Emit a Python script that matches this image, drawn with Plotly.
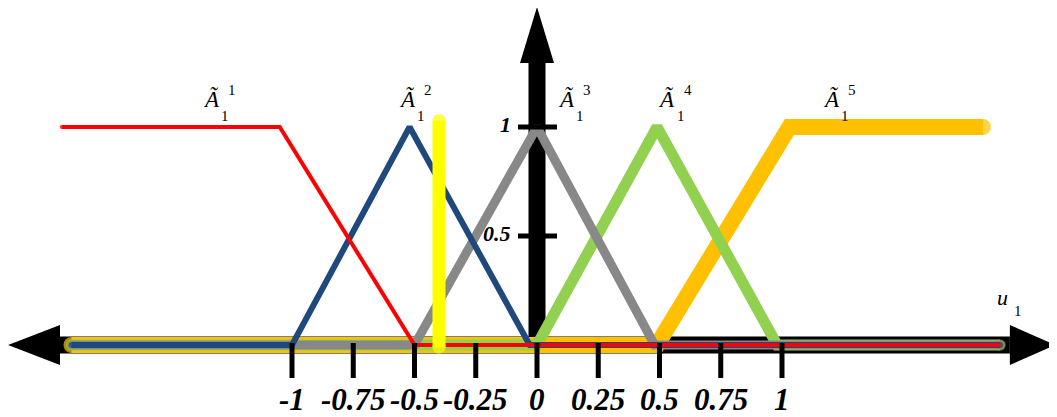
"""Fuzzy membership functions A~_1^1..A~_1^5 on the u_1 universe."""
import plotly.graph_objects as go

# membership function breakpoints
red_x = [-1.94, -1.05, -0.5, 1.89]
red_y = [1, 1, 0, 0]
blue_x = [-1.9, -1.0, -0.52, -0.03, 1.89]
blue_y = [0, 0, 1, 0, 0]
gray_x = [-1.9, -0.5, 0.0, 0.48, 1.89]
gray_y = [0, 0, 1, 0, 0]
green_x = [-1.9, 0.0, 0.49, 0.98, 1.89]
green_y = [0, 0, 1, 0, 0]
orange_x = [-1.9, 0.49, 1.03, 1.82]
orange_y = [0, 0, 1, 1]
yellow_x = [-0.4, -0.4]
yellow_y = [-0.01, 1.03]

x_ticks = [-1, -0.75, -0.5, -0.25, 0, 0.25, 0.5, 0.75, 1]
x_tick_labels = ["-1", "-0.75", "-0.5", "-0.25", "0", "0.25", "0.5", "0.75", "1"]
y_ticks = [1, 0.5]
y_tick_labels = ["1", "0.5"]

set_x = [-1.33, -0.53, 0.12, 0.53, 1.2]
set_y = [1.13, 1.13, 1.13, 1.13, 1.13]
set_idx = ["1", "2", "3", "4", "5"]

PAGE = 8                 # default body margin of the html page
W, H = 1057 - PAGE, 417 - PAGE
X0_PX, SX = 537 - PAGE, 245     # figure pixel of u=0, px per unit
Y0_PX, SY = 345 - PAGE, 218     # figure pixel of mu=0, px per unit


def dx(px):
    return px / SX


def dy(px):
    return px / SY


SERIF = "Liberation Serif, Times New Roman, serif"
BLACK = "#000000"

fig = go.Figure()


def add_mf(xs, ys, color, width):
    n = len(xs)
    sizes = [width] + [0] * (n - 2) + [width]
    fig.add_trace(go.Scatter(
        x=xs, y=ys, mode="lines+markers",
        line=dict(color=color, width=width),
        marker=dict(size=sizes, color=color, line=dict(width=0)),
        hoverinfo="skip",
    ))


add_mf(orange_x, orange_y, "#FFC000", 16)
add_mf(green_x, green_y, "#92D050", 11)
add_mf(gray_x, gray_y, "#888888", 9)
add_mf(blue_x, blue_y, "#1F497D", 6)
add_mf(red_x, red_y, "#FF0000", 4)
add_mf(yellow_x, yellow_y, "#FFFF00", 13)

# axes: thick black bars with arrowheads (below the curves)
fig.add_shape(type="line", x0=-1.95, x1=1.93, y0=0, y1=0, layer="below",
              line=dict(color=BLACK, width=17))
fig.add_shape(type="path", layer="below", fillcolor=BLACK, line=dict(width=0),
              path=f"M {-2.159} 0 L {-1.947} {dy(20)} L {-1.947} {-dy(20)} Z")
fig.add_shape(type="path", layer="below", fillcolor=BLACK, line=dict(width=0),
              path=f"M {2.114} 0 L {1.93} {dy(20)} L {1.93} {-dy(20)} Z")
y_top = dy(345 - 63)
fig.add_shape(type="line", x0=0, x1=0, y0=0, y1=y_top, layer="below",
              line=dict(color=BLACK, width=17))
fig.add_shape(type="path", layer="below", fillcolor=BLACK, line=dict(width=0),
              path=f"M 0 {dy(345 - 7)} L {-dx(17)} {y_top} L {dx(17)} {y_top} Z")

tick_font = dict(family=SERIF, size=31, color=BLACK, weight="bold", style="italic")
for t, lab in zip(x_ticks, x_tick_labels):
    fig.add_shape(type="line", x0=t, x1=t, y0=dy(2), y1=-dy(33),
                  line=dict(color=BLACK, width=5))
    fig.add_annotation(x=t, y=0, text=lab, showarrow=False, yanchor="middle",
                       yshift=-54, font=tick_font)

for t, lab in zip(y_ticks, y_tick_labels):
    fig.add_shape(type="line", x0=-dx(19), x1=dx(20), y0=t, y1=t,
                  line=dict(color=BLACK, width=5))
    fig.add_annotation(x=0, y=t, text=lab, showarrow=False, xanchor="right",
                       yanchor="middle", xshift=-24, yshift=3,
                       font=dict(family=SERIF, size=22, color=BLACK,
                                 weight="bold", style="italic"))

# set names  Ã_1^k
for sx, sy, k in zip(set_x, set_y, set_idx):
    fig.add_annotation(x=sx, y=sy, text="Ã", showarrow=False,
                       font=dict(family=SERIF, size=23, color=BLACK, style="italic"))
    fig.add_annotation(x=sx, y=sy, text="1", showarrow=False, xshift=14, yshift=-17,
                       font=dict(family=SERIF, size=15, color=BLACK))
    fig.add_annotation(x=sx, y=sy, text=k, showarrow=False, xshift=21, yshift=9,
                       font=dict(family=SERIF, size=15, color=BLACK))

# universe label u_1
fig.add_annotation(x=dx(1002 - 537), y=dy(345 - 297), text="u", showarrow=False,
                   font=dict(family=SERIF, size=22, color=BLACK, style="italic"))
fig.add_annotation(x=dx(1002 - 537), y=dy(345 - 297), text="1", showarrow=False,
                   xshift=16, yshift=-14, font=dict(family=SERIF, size=15, color=BLACK))

fig.update_layout(
    width=W, height=H,
    margin=dict(l=0, r=0, t=0, b=0),
    paper_bgcolor="white", plot_bgcolor="white",
    showlegend=False,
    xaxis=dict(visible=False, range=[-X0_PX / SX, (W - X0_PX) / SX], fixedrange=True),
    yaxis=dict(visible=False, range=[-(H - Y0_PX) / SY, Y0_PX / SY], fixedrange=True),
)

fig.write_html("out.html")
